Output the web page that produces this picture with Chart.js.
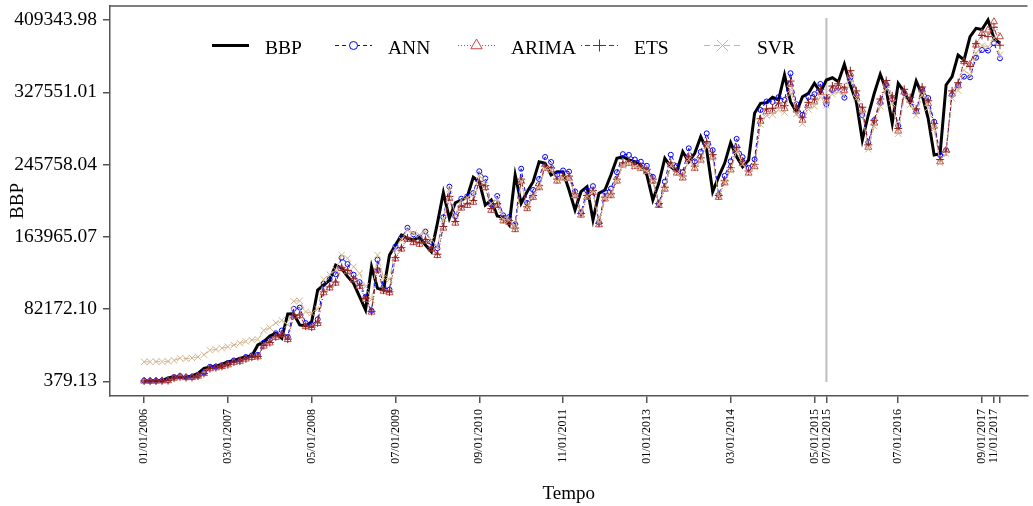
<!DOCTYPE html>
<html>
<head>
<meta charset="utf-8">
<script src="https://cdn.jsdelivr.net/npm/chart.js@4.4.1/dist/chart.umd.min.js"></script>
<style>
  html, body { margin: 0; padding: 0; background: #fff; }
</style>
</head>
<body>
<canvas id="chartContainer" width="1033" height="506"></canvas>
<script>
// monthly series, 01/2006 .. 12/2017 (index 0 = Jan 2006)
const BBP = [379.13, 700, 900, 1100, 4100, 5600, 4700, 4900, 6400, 9400,
  15100, 16200, 17700, 19600, 22600, 23700, 26400, 28200, 29000, 41500,
  45200, 51700, 54700, 49100, 76600, 76900, 64100, 63000, 67800, 103700,
  109400, 115000, 132000, 128300, 118800, 111300, 96100, 81100, 130100, 105600,
  103700, 143300, 154700, 166000, 162200, 160300, 164100, 154700, 147100, 179200,
  213900, 184900, 202500, 205600, 209300, 231300, 226300, 199900, 205600, 187500,
  186000, 177300, 233900, 201900, 215000, 226300, 248900, 247100, 233900, 237600,
  237300, 216900, 194300, 215000, 220600, 183000, 213200, 216900, 233900, 252800,
  254600, 250900, 248900, 245200, 233900, 205600, 224500, 252800, 243300, 237600,
  260300, 248900, 258500, 277200, 262200, 215000, 232000, 247100, 270500, 254600,
  243300, 250900, 303700, 315000, 315800, 321800, 318800, 347100, 316900, 304900,
  322500, 326400, 337700, 327500, 341400, 344000, 339500, 359200, 335800, 316900,
  273500, 301800, 326400, 347900, 330100, 292400, 337700, 328200, 315000, 340300,
  324400, 298100, 256500, 258000, 335800, 345200, 369700, 364100, 390400, 399900,
  398500, 409343.98, 388600, 383000];

const ANN = [1200, 900, 1000, 1300, 1600, 5200, 6300, 5000, 5300, 7100,
  10400, 16800, 17100, 18600, 20900, 24000, 24800, 27900, 29700, 30300,
  44100, 47600, 54800, 57900, 50600, 82400, 83800, 66200, 64000, 70500,
  110800, 115700, 121500, 140200, 133100, 121000, 112600, 96000, 80300, 138100,
  106900, 104200, 152900, 162500, 174100, 166800, 163600, 169900, 158000, 151000,
  186000, 220700, 187200, 207100, 209500, 213400, 238100, 230000, 200500, 210100,
  188200, 186400, 178100, 241000, 202300, 217000, 229400, 254300, 248600, 234200,
  239000, 237700, 215300, 191000, 216400, 221300, 180000, 214700, 218500, 237100,
  257500, 256600, 251400, 248900, 244300, 231800, 201000, 226300, 256800, 243900,
  237200, 264100, 249300, 260100, 281000, 262000, 211300, 232900, 249400, 274800,
  254100, 241800, 251600, 307500, 317100, 316600, 322000, 318700, 349100, 314000,
  301800, 322100, 325400, 337000, 314000, 330100, 332700, 321400, 344000, 324400,
  301800, 271000, 296000, 315400, 335800, 319600, 289700, 327000, 318000, 306300,
  331000, 321000, 294200, 256500, 262000, 324400, 335800, 345200, 344500, 366700,
  375400, 374700, 383000, 366000];

const ARIMA = [600, 500, 650, 850, 1050, 3900, 5400, 4500, 4700, 6200,
  9100, 14600, 15700, 17200, 19000, 21900, 23000, 25600, 27400, 28100,
  40200, 43800, 50100, 53000, 47600, 74300, 74600, 62200, 61100, 65800,
  100600, 106100, 111500, 128000, 124500, 115200, 108000, 93200, 78700, 126200,
  102400, 100600, 139000, 150100, 161000, 157300, 155500, 159200, 150100, 142700,
  173800, 207500, 179400, 196400, 199400, 203000, 224400, 219500, 193900, 199400,
  181900, 180400, 172000, 226900, 195800, 208600, 219500, 241400, 239700, 226900,
  230500, 230200, 210400, 188500, 208600, 214000, 177500, 206800, 210400, 226900,
  245200, 247000, 243400, 241400, 237800, 226900, 199400, 217800, 245200, 236000,
  230500, 252500, 241400, 250700, 268900, 254300, 208600, 225000, 239700, 262400,
  247000, 236000, 243400, 294600, 305600, 306300, 312100, 309200, 336700, 307400,
  295800, 312800, 316600, 327600, 317700, 331200, 333700, 329300, 348400, 325700,
  307400, 265300, 292700, 316600, 337500, 320200, 283600, 327600, 318400, 305600,
  330100, 314700, 289200, 248800, 262000, 325700, 334800, 362200, 359200, 381000,
  394300, 398000, 407400, 390400];

const ETS = [700, 600, 700, 900, 1200, 4000, 5500, 4600, 4800, 6300,
  9300, 14800, 15900, 17400, 19300, 22200, 23300, 25900, 27700, 28500,
  40700, 44300, 50700, 53600, 48100, 75100, 75400, 62800, 61700, 66500,
  101700, 107200, 112700, 129400, 125700, 116400, 109100, 94200, 79500, 127500,
  103500, 101600, 140400, 151600, 162700, 159000, 157100, 160800, 151600, 144200,
  175600, 209600, 181200, 198500, 201500, 205100, 226700, 221800, 195900, 201500,
  183800, 182300, 173800, 229200, 197900, 210700, 221800, 243900, 242200, 229200,
  232800, 232600, 212600, 190400, 210700, 216200, 179300, 208900, 212600, 229200,
  247700, 249500, 245900, 243900, 240300, 229200, 201500, 220000, 247700, 238400,
  232800, 255100, 243900, 253300, 271700, 257000, 210700, 227400, 242200, 265100,
  249500, 238400, 245900, 297600, 308700, 309500, 315400, 312400, 340200, 310600,
  298800, 316100, 319900, 330900, 321000, 334600, 337100, 332700, 352000, 329100,
  310600, 268000, 295800, 319900, 340900, 323500, 286600, 330900, 321600, 308700,
  333500, 317900, 292100, 251400, 260000, 329100, 338300, 362300, 356800, 382600,
  391900, 390500, 401100, 380800];

const SVR = [22400, 22500, 22600, 22700, 22900, 24000, 26500, 26000, 26800, 28000,
  30500, 35500, 36500, 37800, 39500, 41500, 43500, 45500, 47000, 47800,
  58000, 61000, 66500, 69500, 64500, 91000, 91600, 79000, 77500, 82000,
  115800, 121200, 126500, 143300, 139600, 130000, 122700, 107800, 93000, 143300,
  117600, 115700, 151000, 161000, 171600, 167800, 166000, 169700, 160600, 153200,
  184300, 217800, 188600, 205600, 208500, 212100, 233000, 227600, 201500, 207000,
  183800, 182500, 174400, 226900, 197500, 209800, 220100, 240900, 239200, 227100,
  230500, 230200, 211500, 190700, 209800, 215000, 180300, 208100, 211500, 227100,
  244600, 246300, 242800, 241100, 237700, 227100, 201000, 218500, 244600, 235800,
  230500, 251400, 241100, 249800, 266900, 253200, 209800, 225500, 239200, 260600,
  246300, 235800, 242800, 291100, 301400, 302100, 307600, 304800, 330700, 303000,
  292000, 308100, 311700, 322000, 312700, 325500, 327900, 323700, 341900, 320600,
  303000, 263100, 289100, 311700, 331500, 315100, 280700, 322000, 313300, 301400,
  324700, 310000, 286000, 247600, 258000, 320600, 329500, 352400, 347200, 371700,
  380400, 379100, 389200, 370000];

// axis ticks
const yTicks = [379.13, 82172.10, 163965.07, 245758.04, 327551.01, 409343.98];
const xTickMonths = [0, 14, 28, 42, 56, 70, 84, 98, 112, 114, 126, 140, 142, 143];
const xTickLabels = ["01/01/2006", "03/01/2007", "05/01/2008", "07/01/2009", "09/01/2010",
  "11/01/2011", "01/01/2013", "03/01/2014", "05/01/2015", "07/01/2015", "07/01/2016",
  "09/01/2017", "11/01/2017", ""];

// start of the test period
const splitMonth = 114;
const splitSpan = [411600, -400];

const series = [
  { label: "BBP", values: BBP, color: "#000000", width: 3, dash: [], point: false, order: 5 },
  { label: "ANN", values: ANN, color: "#0000FF", width: 1, dash: [4, 3], point: "circle", radius: 2.5, legendRadius: 4, order: 4 },
  { label: "ARIMA", values: ARIMA, color: "#C04848", width: 1, dash: [1, 2], point: "triangle", radius: 4, legendRadius: 6.5, order: 3 },
  { label: "ETS", values: ETS, color: "#8B2020", width: 1, dash: [1, 3, 5, 3], point: "cross", radius: 4, legendRadius: 6, order: 2 },
  { label: "SVR", values: SVR, color: "#D2B48C", width: 1, dash: [6, 4], point: "crossRot", radius: 4.5, legendRadius: 8, order: 1 },
];

const FONT = '"Liberation Serif", "Times New Roman", serif';
Chart.defaults.font.family = FONT;
Chart.defaults.color = "#000";

const datasets = series.map(s => ({
  label: s.label,
  data: s.values.map((v, i) => ({ x: i, y: v })),
  borderColor: s.color,
  borderWidth: s.width,
  borderDash: s.dash,
  pointStyle: s.point || "circle",
  pointRadius: s.point ? s.radius : 0,
  pointBorderColor: s.color,
  pointBackgroundColor: "rgba(0,0,0,0)",
  pointBorderWidth: 1,
  tension: 0,
  fill: false,
  order: s.order,
}));

datasets.push({
  label: "split",
  data: [{ x: splitMonth, y: splitSpan[0] }, { x: splitMonth, y: splitSpan[1] }],
  borderColor: "#BEBEBE",
  borderWidth: 2,
  pointRadius: 0,
  order: 6,
});

const legendPlugin = {
  id: "rLegend",
  afterDraw(chart) {
    const ctx = chart.ctx;
    series.forEach((s, k) => {
      const x0 = 212 + k * 123;
      const y = 45.5;
      ctx.save();
      ctx.strokeStyle = s.color;
      ctx.lineWidth = s.width;
      ctx.setLineDash(s.dash);
      ctx.beginPath();
      ctx.moveTo(x0, y);
      ctx.lineTo(x0 + 37, y);
      ctx.stroke();
      ctx.setLineDash([]);
      if (s.point) {
        ctx.fillStyle = "#fff";
        Chart.helpers.drawPoint(ctx, { pointStyle: s.point, radius: s.legendRadius, rotation: 0, borderWidth: 1 }, x0 + 18.5, y);
      }
      ctx.fillStyle = "#000";
      ctx.font = "19.5px " + FONT;
      ctx.textBaseline = "alphabetic";
      ctx.fillText(s.label, x0 + 53, 54);
      ctx.restore();
    });
    // top of the box
    const a = chart.chartArea;
    ctx.save();
    ctx.strokeStyle = "#555";
    ctx.lineWidth = 1.5;
    ctx.beginPath();
    ctx.moveTo(a.left, a.top);
    ctx.lineTo(a.right, a.top);
    ctx.stroke();
    ctx.restore();
  }
};

const chart = new Chart(document.getElementById("chartContainer"), {
  type: "line",
  data: { datasets },
  plugins: [legendPlugin],
  options: {
    responsive: false,
    animation: false,
    events: [],
    layout: { padding: { left: 0, right: 0, top: 6, bottom: 0 } },
    plugins: { legend: { display: false }, tooltip: { enabled: false } },
    scales: {
      x: {
        type: "linear",
        min: -5.7,
        max: 147.6,
        afterFit: s => { s.height = 110; s.paddingLeft = 0; s.paddingRight = 0; },
        afterBuildTicks: s => { s.ticks = xTickMonths.map(v => ({ value: v })); },
        grid: { drawOnChartArea: false, drawTicks: true, tickLength: 7, color: "#555", lineWidth: 1.5 },
        border: { display: true, color: "#555", width: 1.5 },
        ticks: {
          autoSkip: false,
          minRotation: 90,
          maxRotation: 90,
          padding: 6,
          font: { size: 12 },
          callback: (v, i) => xTickLabels[i],
        },
        title: { display: true, text: "Tempo", font: { size: 19 }, padding: { top: 0, bottom: 1 } },
      },
      y: {
        type: "linear",
        min: -16260,
        max: 425190,
        afterFit: s => { s.width = 110; s.paddingTop = 0; s.paddingBottom = 0; },
        afterBuildTicks: s => { s.ticks = yTicks.map(v => ({ value: v })); },
        grid: { drawOnChartArea: false, drawTicks: true, tickLength: 7, color: "#555", lineWidth: 1.5 },
        border: { display: true, color: "#555", width: 1.5 },
        ticks: {
          padding: 6,
          font: { size: 19.5 },
          callback: v => Number(v).toFixed(2),
        },
        title: { display: true, text: "BBP", font: { size: 19 }, padding: { top: 7, bottom: 0 } },
      },
    },
  },
});
</script>
</body>
</html>
